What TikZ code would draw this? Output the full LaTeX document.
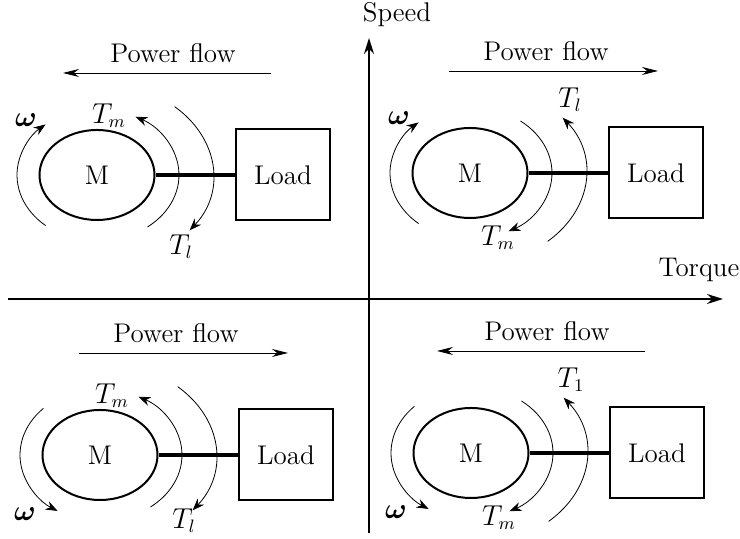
\documentclass[tikz,border=0pt]{standalone}
\usepackage{amsmath}
\usepackage{bm}
\usetikzlibrary{arrows.meta,shapes.geometric}

\tikzset{
    motor/.style={draw, ellipse, line width=1pt, inner sep=0pt, minimum width=57.5pt, minimum height=45pt},
    loadbox/.style={draw, rectangle, line width=1pt, inner sep=0pt, minimum width=47pt, minimum height=45.5pt},
    shaft/.style={line width=2pt},
    tq/.style={thin, -{Stealth[length=6pt, width=4.5pt]}},
    flow/.style={thin, -{Stealth[length=8pt, width=4pt]}},
    axis/.style={line width=0.9pt, -{Stealth[length=8pt, width=5pt]}}
}

\begin{document}
\begin{tikzpicture}[x=0.5pt, y=0.5pt, font=\fontsize{13.5}{16}\selectfont]
    \useasboundingbox (0,0) rectangle (740,539);

    % axes
    \coordinate (sbot) at (369,6);
    \coordinate (stop) at (369,501);
    \coordinate (tleft) at (8,240);
    \coordinate (tright) at (723,240);
    \draw[axis] (sbot) -- (stop);
    \draw[axis] (tleft) -- (tright);
    \node (speed) at (397,524) {Speed};
    \node (torque) at (699,269) {Torque};

    % quadrant II (top left)
    \begin{scope}[shift={(97,364)}]
        \node[motor] (m1) at (0,0) {M};
        \node[loadbox] (l1) at (186,0) {Load};
        \draw[shaft] (m1.east) -- (l1.west);
        \draw[tq] (230:80 and 66) arc[start angle=230, end angle=130, x radius=80, y radius=66];
        \draw[tq] (-52:82 and 66) arc[start angle=-52, end angle=62, x radius=82, y radius=66];
        \draw[tq] (48:116 and 92) arc[start angle=48, end angle=-37, x radius=116, y radius=92];
        \node (w1) at (-71,55) {$\bm{\omega}$};
        \node (tm1) at (12,59) {$T_m$};
        \node (tl1) at (84,-72) {$T_l$};
        \node (pf1) at (76,122) {Power flow};
        \coordinate (pa1) at (174,102);
        \coordinate (pb1) at (-34,102);
        \draw[flow] (pa1) -- (pb1);
    \end{scope}

    % quadrant I (top right)
    \begin{scope}[shift={(470,366)}]
        \node[motor] (m2) at (0,0) {M};
        \node[loadbox] (l2) at (186,0) {Load};
        \draw[shaft] (m2.east) -- (l2.west);
        \draw[tq] (230:80 and 66) arc[start angle=230, end angle=130, x radius=80, y radius=66];
        \draw[tq] (52:82 and 66) arc[start angle=52, end angle=-62, x radius=82, y radius=66];
        \draw[tq] (-48:116 and 92) arc[start angle=-48, end angle=37, x radius=116, y radius=92];
        \node (w2) at (-71,55) {$\bm{\omega}$};
        \node (tm2) at (28,-65) {$T_m$};
        \node (tl2) at (100,73) {$T_l$};
        \node (pf2) at (76,122) {Power flow};
        \coordinate (pa2) at (-21,102);
        \coordinate (pb2) at (188,102);
        \draw[flow] (pa2) -- (pb2);
    \end{scope}

    % quadrant III (bottom left)
    \begin{scope}[shift={(100,84)}]
        \node[motor] (m3) at (0,0) {M};
        \node[loadbox] (l3) at (186,0) {Load};
        \draw[shaft] (m3.east) -- (l3.west);
        \draw[tq] (135:80 and 66) arc[start angle=135, end angle=238, x radius=80, y radius=66];
        \draw[tq] (-52:82 and 66) arc[start angle=-52, end angle=62, x radius=82, y radius=66];
        \draw[tq] (48:116 and 92) arc[start angle=48, end angle=-37, x radius=116, y radius=92];
        \node (w3) at (-75,-59) {$\bm{\omega}$};
        \node (tm3) at (12,59) {$T_m$};
        \node (tl3) at (84,-66) {$T_l$};
        \node (pf3) at (76,122) {Power flow};
        \coordinate (pa3) at (-21,102);
        \coordinate (pb3) at (188,102);
        \draw[flow] (pa3) -- (pb3);
    \end{scope}

    % quadrant IV (bottom right)
    \begin{scope}[shift={(471,86)}]
        \node[motor] (m4) at (0,0) {M};
        \node[loadbox] (l4) at (186,0) {Load};
        \draw[shaft] (m4.east) -- (l4.west);
        \draw[tq] (135:80 and 66) arc[start angle=135, end angle=238, x radius=80, y radius=66];
        \draw[tq] (52:82 and 66) arc[start angle=52, end angle=-62, x radius=82, y radius=66];
        \draw[tq] (-48:116 and 92) arc[start angle=-48, end angle=37, x radius=116, y radius=92];
        \node (w4) at (-75,-59) {$\bm{\omega}$};
        \node (tm4) at (28,-65) {$T_m$};
        \node (tl4) at (100,73) {$T_1$};
        \node (pf4) at (76,122) {Power flow};
        \coordinate (pa4) at (174,102);
        \coordinate (pb4) at (-34,102);
        \draw[flow] (pa4) -- (pb4);
    \end{scope}
\end{tikzpicture}
\end{document}
